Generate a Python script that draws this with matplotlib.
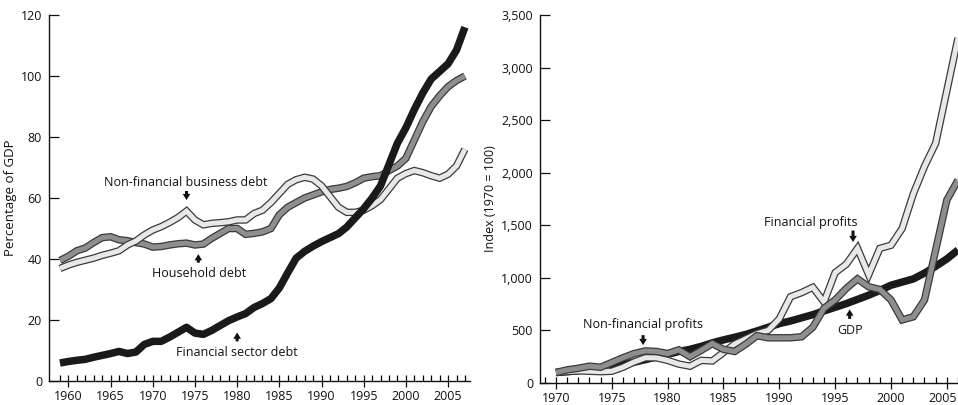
import matplotlib
matplotlib.use("Agg")
import matplotlib.pyplot as plt
import matplotlib.patheffects as pe
import matplotlib.transforms as mtransforms
from matplotlib.ticker import FuncFormatter

plt.rcParams['font.family'] = ['Open Sans', 'DejaVu Sans']

# ---------------- data ----------------
debt_years = list(range(1959, 2008))
financial_sector_debt = [5.9, 6.4, 6.8, 7.1, 7.8, 8.4, 9.0, 9.7, 9.0, 9.5,
                         12.0, 13.0, 13.0, 14.4, 16.0, 17.6, 15.7, 15.3, 16.6, 18.2,
                         19.8, 21.0, 22.1, 24.1, 25.4, 27.0, 30.5, 35.5, 40.3, 42.5,
                         44.2, 45.7, 47.0, 48.3, 50.5, 53.5, 56.5, 60.0, 64.0, 71.0,
                         78.0, 83.0, 89.0, 94.4, 99.0, 101.5, 104.0, 108.5, 116.0]
household_debt = [39.5, 40.9, 42.7, 43.6, 45.4, 47.0, 47.3, 46.3, 46.0, 45.4,
                  44.9, 43.9, 44.1, 44.6, 45.0, 45.2, 44.6, 44.9, 46.8, 48.4,
                  50.0, 50.0, 48.1, 48.4, 48.9, 50.0, 54.5, 57.0, 58.5, 60.0,
                  61.0, 62.0, 62.8, 63.2, 63.8, 65.0, 66.5, 67.0, 67.3, 69.0,
                  70.5, 73.0, 79.0, 85.0, 90.0, 93.5, 96.5, 98.5, 100.0]
business_debt = [36.9, 38.0, 38.9, 39.6, 40.3, 41.2, 41.9, 42.7, 44.6, 45.9,
                 47.9, 49.5, 50.6, 52.0, 53.6, 55.7, 52.8, 51.2, 51.7, 51.9,
                 52.2, 52.8, 52.8, 54.9, 56.0, 58.5, 61.5, 64.5, 66.0, 66.8,
                 66.2, 64.0, 60.5, 57.0, 55.3, 55.3, 56.0, 57.5, 59.5, 63.0,
                 66.5, 68.0, 69.0, 68.3, 67.3, 66.5, 67.8, 70.5, 76.0]

index_years = list(range(1970, 2007))
gdp_index = [100, 108, 118, 132, 146, 160, 178, 198, 222, 248,
             272, 300, 320, 348, 382, 410, 435, 462, 495, 530,
             565, 590, 620, 650, 685, 720, 755, 795, 835, 880,
             930, 960, 990, 1045, 1110, 1180, 1265]
financial_profits = [100, 108, 115, 112, 108, 112, 150, 200, 240, 240,
                     215, 180, 160, 215, 210, 290, 370, 420, 470, 500,
                     610, 820, 860, 910, 770, 1050, 1130, 1280, 1030, 1280,
                     1310, 1470, 1800, 2060, 2280, 2780, 3280]
nonfinancial_profits = [100, 125, 140, 160, 150, 195, 240, 280, 305, 300,
                        280, 315, 250, 310, 375, 320, 300, 370, 450, 430,
                        430, 430, 440, 530, 710, 790, 900, 990, 915, 890,
                        790, 600, 630, 790, 1265, 1740, 1930]

left_yticks = [0, 20, 40, 60, 80, 100, 120]
right_yticks = [0, 500, 1000, 1500, 2000, 2500, 3000, 3500]

# ---------------- figure ----------------
W, H = 958, 405
fig = plt.figure(figsize=(W / 100, H / 100), dpi=100)

def px_axes(x0, x1, ytop, ybot):
    return fig.add_axes([x0 / W, 1 - ybot / H, (x1 - x0) / W, (ybot - ytop) / H])

axL = px_axes(49, 470, 15, 381)
axR = px_axes(540, 958, 15, 383)

BLACK = '#1a1a1a'
EDGE = '#3a3a3a'

def solid(ax, x, y, z):
    ax.plot(x, y, color=BLACK, lw=5.4, solid_capstyle='butt',
            solid_joinstyle='round', zorder=z, clip_on=False)

def outlined(ax, x, y, fill, z):
    ax.plot(x, y, color=fill, lw=3.6, solid_capstyle='butt', solid_joinstyle='miter',
            zorder=z, clip_on=False,
            path_effects=[pe.Stroke(linewidth=5.4, foreground=EDGE,
                                    capstyle='butt', joinstyle='miter'),
                          pe.Normal()])

def style_axes(ax, xlim, ylim, yticks, minor_years, major_years, fmt):
    ax.set_xlim(*xlim)
    ax.set_ylim(*ylim)
    for s in ('top', 'right'):
        ax.spines[s].set_visible(False)
    for s in ('left', 'bottom'):
        ax.spines[s].set_linewidth(1.0)
        ax.spines[s].set_color('#111111')
    ax.set_yticks(yticks)
    ax.yaxis.set_major_formatter(FuncFormatter(fmt))
    ax.set_xticks(major_years)
    ax.set_xticks(minor_years, minor=True)
    ax.tick_params(axis='y', direction='in', length=7, width=0.9, pad=5,
                   labelsize=9, colors='#111111')
    ax.tick_params(axis='x', which='major', direction='inout', length=9, width=0.9,
                   pad=2, labelsize=9, colors='#111111')
    ax.tick_params(axis='x', which='minor', direction='in', length=4.5, width=0.9)
    ax.patch.set_alpha(0)

# left panel
outlined(axL, debt_years, household_debt, '#8e8e8e', 3)
outlined(axL, debt_years, business_debt, '#e8e8e8', 4)
solid(axL, debt_years, financial_sector_debt, 5)
style_axes(axL, (1957.7, 2007.6), (0, 120), left_yticks,
           range(1959, 2008), range(1960, 2006, 5), lambda v, p: f'{int(v)}')
axL.set_ylabel('Percentage of GDP', fontsize=9.5, labelpad=3, color='#111111')

# right panel
solid(axR, index_years, gdp_index, 3)
outlined(axR, index_years, financial_profits, '#e8e8e8', 4)
outlined(axR, index_years, nonfinancial_profits, '#8e8e8e', 5)
style_axes(axR, (1968.57, 2005.9), (0, 3500), right_yticks,
           range(1969, 2007), range(1970, 2006, 5), lambda v, p: f'{int(v):,}')
axR.set_ylabel('Index (1970 = 100)', fontsize=9, labelpad=3, color='#111111')

# keep the last year label of the right panel inside the canvas
fig.canvas.draw()
last = axR.get_xticklabels()[-1]
last.set_transform(last.get_transform() +
                   mtransforms.ScaledTranslation(-4 / 100, 0, fig.dpi_scale_trans))

# annotations
def label(ax, text, x, y):
    ax.text(x, y, text, ha='center', va='center', fontsize=9, color='#111111', zorder=10)

def arrow(ax, x, y_tail, y_head):
    ax.annotate('', xy=(x, y_head), xytext=(x, y_tail),
                arrowprops=dict(arrowstyle='simple,head_length=0.45,head_width=0.55,tail_width=0.22',
                                color='#111111', lw=0, shrinkA=0, shrinkB=0,
                                mutation_scale=10), zorder=10)

label(axL, 'Non-financial business debt', 1973.9, 65.0)
arrow(axL, 1974.0, 62.3, 59.3)
label(axL, 'Household debt', 1975.5, 35.3)
arrow(axL, 1975.4, 38.8, 41.6)
label(axL, 'Financial sector debt', 1980.0, 9.5)
arrow(axL, 1980.0, 13.0, 15.9)

label(axR, 'Financial profits', 1992.8, 1522)
arrow(axR, 1996.6, 1450, 1340)
label(axR, 'GDP', 1996.3, 504)
arrow(axR, 1996.3, 610, 700)
label(axR, 'Non-financial profits', 1977.8, 552)
arrow(axR, 1977.8, 455, 360)

fig.savefig('out.png', dpi=100)
